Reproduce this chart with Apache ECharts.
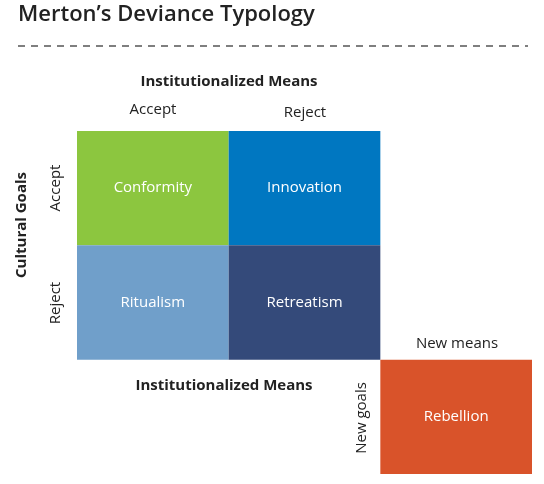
<!DOCTYPE html>
<html><head><meta charset="utf-8">
<script src="https://cdn.jsdelivr.net/npm/echarts@6/dist/echarts.min.js"></script>
<style>html,body{margin:0;padding:0;background:#fff}#c{width:544px;height:484px}</style>
</head><body><div id="c"></div>
<script>
const cols = [0, 1, 0, 1, 2];
const rows = [0, 0, 1, 1, 2];
const names = ['Conformity', 'Innovation', 'Ritualism', 'Retreatism', 'Rebellion'];
const colors = ['#8cc63f', '#0077c1', '#709fca', '#344a7a', '#d9532a'];
const F = 'Open Sans, Liberation Sans, sans-serif';
const chart = echarts.init(document.getElementById('c'));
const txt = (x, y, s, o) => Object.assign({type:'text', x, y, style:{text:s, font:(o&&o.bold?'bold ':'')+'15px '+F, fill:'#222', align:'center', verticalAlign:'middle'}}, o&&o.rot?{rotation:Math.PI/2}:{});
chart.setOption({
  animation:false,
  grid:{left:77, top:131, width:455, height:343},
  xAxis:{type:'value', min:0, max:3, show:false},
  yAxis:{type:'value', min:0, max:3, inverse:true, show:false},
  series:[{
    type:'custom',
    data: names.map((n,i)=>[cols[i], rows[i], i]),
    renderItem:(p, api)=>{
      const a = api.coord([api.value(0), api.value(1)]);
      const b = api.coord([api.value(0)+1, api.value(1)+1]);
      const i = api.value(2);
      return {type:'group', children:[
        {type:'rect', shape:{x:a[0], y:a[1], width:b[0]-a[0], height:b[1]-a[1]}, style:{fill:colors[i]}},
        {type:'text', x:(a[0]+b[0])/2, y:(a[1]+b[1])/2, style:{text:names[i], fill:'#fff', font:'15px '+F, align:'center', verticalAlign:'middle'}}
      ]};
    }
  }],
  graphic:[
    {type:'text', left:18, top:4, style:{text:'Merton’s Deviance Typology', font:'600 22px '+F, fill:'#222'}},
    {type:'line', shape:{x1:18, y1:46, x2:528, y2:46}, style:{stroke:'#555', lineWidth:1.3, lineDash:[7,6]}},
    txt(229, 82, 'Institutionalized Means', {bold:true}),
    txt(153, 110, 'Accept'), txt(305, 113, 'Reject'),
    Object.assign(txt(22, 225, 'Cultural Goals', {bold:true}), {rotation:Math.PI/2}),
    Object.assign(txt(56, 188, 'Accept'), {rotation:Math.PI/2}),
    Object.assign(txt(56, 303, 'Reject'), {rotation:Math.PI/2}),
    txt(224, 386, 'Institutionalized Means', {bold:true}),
    txt(457, 344, 'New means'),
    Object.assign(txt(362, 418, 'New goals'), {rotation:Math.PI/2})
  ]
});
</script></body></html>
